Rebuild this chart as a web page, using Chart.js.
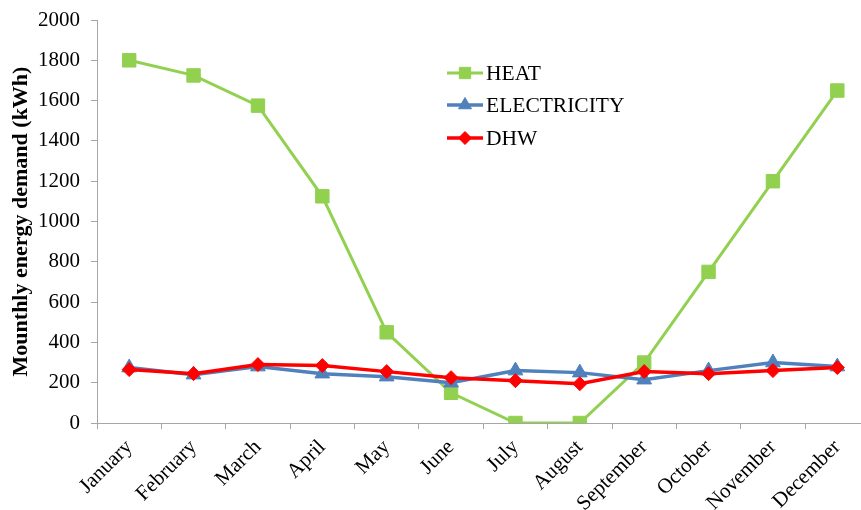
<!DOCTYPE html>
<html>
<head>
<meta charset="utf-8">
<script src="https://cdn.jsdelivr.net/npm/chart.js@4/dist/chart.umd.min.js"></script>
<style>
  html, body { margin: 0; padding: 0; background: #fff; overflow: hidden; }
  #wrap { width: 880px; height: 510px; position: relative; }
</style>
</head>
<body>
<div id="wrap"><canvas id="c" width="880" height="510"></canvas></div>
<script>
const months = ['January', 'February', 'March', 'April', 'May', 'June', 'July',
  'August', 'September', 'October', 'November', 'December'];
const heat = [1800, 1725, 1575, 1125, 450, 150, 0, 0, 300, 750, 1200, 1650];
const electricity = [275, 240, 280, 245, 230, 200, 260, 250, 215, 260, 300, 280];
const dhw = [265, 245, 290, 285, 255, 225, 210, 195, 255, 245, 260, 275];
const yTicks = [0, 200, 400, 600, 800, 1000, 1200, 1400, 1600, 1800, 2000];

const FONT = '"Liberation Serif", "Times New Roman", serif';
const AXIS = '#a6a6a6';

// Legend drawn inside the plot area, at the upper middle
const innerLegend = {
  id: 'innerLegend',
  afterDatasetsDraw(chart) {
    const ctx = chart.ctx;
    const rows = [73, 105, 138];
    ctx.save();
    chart.data.datasets.forEach((ds, i) => {
      const y = rows[i];
      ctx.strokeStyle = ds.borderColor;
      ctx.lineWidth = ds.borderWidth;
      ctx.beginPath();
      ctx.moveTo(447, y);
      ctx.lineTo(483, y);
      ctx.stroke();
      ctx.fillStyle = ds.backgroundColor;
      ctx.strokeStyle = ds.borderColor;
      ctx.lineWidth = 1;
      Chart.helpers.drawPoint(ctx, {
        pointStyle: ds.pointStyle,
        radius: ds.legendRadius,
        borderWidth: 1
      }, 465, y);
      ctx.fillStyle = '#000';
      ctx.font = '21.5px ' + FONT;
      ctx.textBaseline = 'middle';
      ctx.textAlign = 'left';
      ctx.fillText(ds.label, 486, y + 1);
    });
    ctx.restore();
  }
};

new Chart(document.getElementById('c'), {
  type: 'line',
  data: {
    labels: months,
    datasets: [
      {
        label: 'HEAT', data: heat,
        borderColor: '#92D050', backgroundColor: '#92D050',
        borderWidth: 3, pointStyle: 'rect', pointRadius: 9.5, legendRadius: 8,
        pointBorderWidth: 1, tension: 0, order: 3
      },
      {
        label: 'ELECTRICITY', data: electricity,
        borderColor: '#4F81BD', backgroundColor: '#4F81BD',
        borderWidth: 3.5, pointStyle: 'triangle', pointRadius: 8.5, legendRadius: 7.5,
        pointBorderWidth: 1, tension: 0, order: 2
      },
      {
        label: 'DHW', data: dhw,
        borderColor: '#FF0000', backgroundColor: '#FF0000',
        borderWidth: 3.5, pointStyle: 'rectRot', pointRadius: 7, legendRadius: 6.5,
        pointBorderWidth: 1, tension: 0, order: 1
      }
    ]
  },
  options: {
    responsive: false,
    animation: false,
    layout: { padding: { top: 20, right: 1, left: 0, bottom: 0 } },
    plugins: {
      legend: { display: false },
      tooltip: { enabled: false }
    },
    scales: {
      x: {
        offset: true,
        grid: { display: true, drawOnChartArea: false, offset: true, color: AXIS, tickLength: 6 },
        border: { display: true, color: AXIS, width: 1 },
        ticks: {
          color: '#000', font: { family: FONT, size: 21 },
          minRotation: 45, maxRotation: 45, padding: 6, autoSkip: false
        },
        afterFit(s) { s.height = 87; }
      },
      y: {
        min: 0, max: 2000,
        afterBuildTicks(s) { s.ticks = yTicks.map(v => ({ value: v })); },
        grid: { display: true, drawOnChartArea: false, color: AXIS, tickLength: 6 },
        border: { display: true, color: AXIS, width: 1 },
        ticks: {
          color: '#000', font: { family: FONT, size: 21 }, padding: 11,
          callback: v => String(v)
        },
        title: {
          display: true, text: 'Mounthly energy demand (kWh)', color: '#000',
          font: { family: FONT, size: 22, weight: 'bold' },
          padding: { top: 8, bottom: 0 }
        },
        afterFit(s) { s.width = 97; s.paddingTop = 0; s.paddingBottom = 0; }
      }
    }
  },
  plugins: [innerLegend]
});
</script>
</body>
</html>
